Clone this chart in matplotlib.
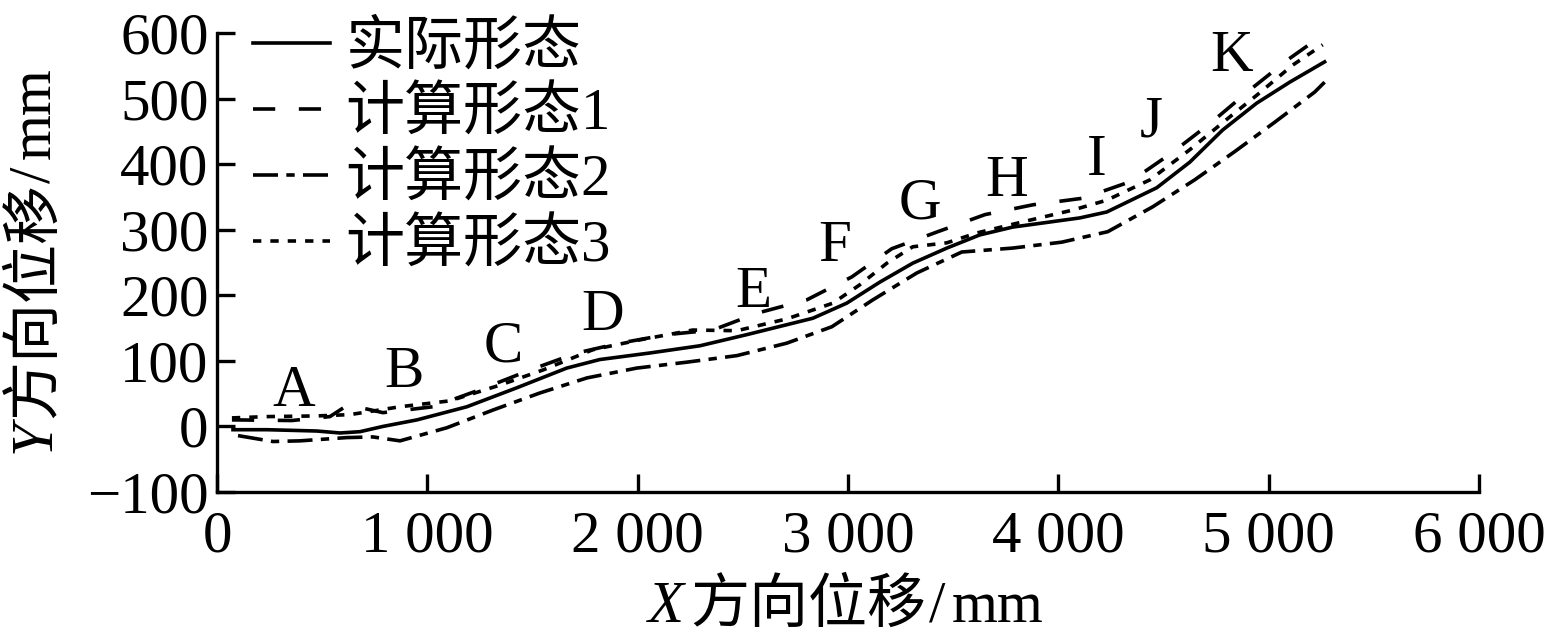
import matplotlib
matplotlib.use('Agg')
import matplotlib.pyplot as plt

plt.rcParams['font.family'] = ['Liberation Serif', 'Noto Sans CJK SC']
plt.rcParams['lines.scale_dashes'] = False
plt.rcParams['axes.unicode_minus'] = False

# Data (mm)
x_actual = [76, 238, 475, 585, 680, 789, 951, 1188, 1426, 1663, 1820, 2058, 2296, 2519, 2833,
            2994, 3151, 3308, 3470, 3626, 3783, 4102, 4230, 4468, 4625, 4781, 4943, 5100, 5266]
y_actual = [-5, -5, -7, -10, -8, 0, 10, 30, 59, 89, 102, 112, 123, 140, 165,
            188, 220, 249, 272, 292, 304, 318, 327, 364, 403, 452, 493, 525, 556]

x_calc1 = [71, 356, 537, 623, 789, 1027, 1250, 1488, 1711, 1915, 2139, 2357, 2571, 2804, 3018,
           3208, 3427, 3651, 3879, 4116, 4340, 4539, 4729, 4910, 5090, 5257]
y_calc1 = [10, 9, 15, 33, 21, 30, 56, 86, 112, 127, 140, 147, 173, 193, 228,
           271, 297, 323, 338, 348, 373, 417, 464, 513, 559, 597]

x_calc2 = [100, 266, 394, 618, 741, 870, 1093, 1312, 1535, 1759, 1996, 2234, 2472, 2709, 2923,
           3118, 3327, 3541, 3783, 4016, 4235, 4449, 4648, 4838, 5029, 5219, 5266]
y_calc2 = [-14, -23, -22, -17, -16, -22, -2, 25, 51, 74, 89, 98, 108, 127, 152,
           193, 234, 266, 272, 281, 297, 335, 376, 419, 464, 510, 525]

x_calc3 = [71, 238, 475, 632, 870, 1107, 1345, 1549, 1787, 2010, 2262, 2472, 2709, 2928, 3056,
           3185, 3308, 3470, 3612, 3831, 4069, 4230, 4435, 4625, 4815, 4943, 5114, 5257]
y_calc3 = [13, 15, 16, 18, 30, 39, 63, 86, 117, 132, 147, 146, 164, 188, 216,
           249, 274, 280, 295, 312, 330, 345, 376, 422, 472, 505, 551, 582]

point_names = ['A', 'B', 'C', 'D', 'E', 'F', 'G', 'H', 'I', 'J', 'K']
point_x = [366, 889, 1359, 1835, 2548, 2938, 3344, 3753, 4181, 4442, 4823]
point_y = [52, 82, 120, 169, 204, 274, 338, 373, 405, 463, 563]

x_ticks = [0, 1000, 2000, 3000, 4000, 5000, 6000]
x_tick_labels = ['0', '1 000', '2 000', '3 000', '4 000', '5 000', '6 000']
y_ticks = [-100, 0, 100, 200, 300, 400, 500, 600]
y_tick_labels = ['\u2212100', '0', '100', '200', '300', '400', '500', '600']

fs = 42.5
W, H = 1546, 639
fig = plt.figure(figsize=(W / 100, H / 100), dpi=100)
ax = fig.add_axes([217 / W, 1 - 492 / H, (1479 - 217) / W, (492 - 33) / H])

ax.plot(x_actual, y_actual, color='k', lw=2.6, ls='-', label='实际形态')
ax.plot(x_calc1, y_calc1, color='k', lw=2.6, ls=(0, (16, 17)), label='计算形态1')
ax.plot(x_calc2, y_calc2, color='k', lw=2.6, ls=(0, (18, 6, 6, 6)), label='计算形态2')
ax.plot(x_calc3, y_calc3, color='k', lw=2.6, ls=(0, (6, 6.5)), label='计算形态3')

for name, px, py in zip(point_names, point_x, point_y):
    ax.text(px, py, name, fontsize=fs, ha='center', va='center')

ax.set_xlim(0, 6000)
ax.set_ylim(-100, 600)
ax.set_xticks(x_ticks)
ax.set_xticklabels(x_tick_labels)
ax.set_yticks(y_ticks)
ax.set_yticklabels(y_tick_labels)
ax.tick_params(direction='in', length=13, width=2.4, labelsize=fs)
ax.tick_params(axis='x', pad=13)
ax.tick_params(axis='y', pad=6)
ax.spines['top'].set_visible(False)
ax.spines['right'].set_visible(False)
ax.spines['left'].set_linewidth(2.4)
ax.spines['bottom'].set_linewidth(2.4)


# axis titles in pieces, the letter is italic and CJK has no italic
def x_part(s, px, **kw):
    fig.text(px / W, 1 - 622 / H, s, fontsize=fs, ha='left', va='baseline', **kw)


def y_part(s, py, **kw):
    fig.text(50 / W, 1 - py / H, s, fontsize=fs, rotation=90, rotation_mode='anchor',
             ha='left', va='baseline', **kw)


x_part('X', 648, fontstyle='italic', family='Liberation Serif')
x_part('方向位移', 690)
x_part('/', 929)
x_part('mm', 952)

y_part('Y', 453, fontstyle='italic', family='Liberation Serif')
y_part('方向位移', 418)
y_part('/', 183)
y_part('mm', 159)

ax.legend(loc='upper left', bbox_to_anchor=(0.0285, 1.026), frameon=False, fontsize=fs,
          handlelength=1.3, handletextpad=0.27, labelspacing=0.185, borderpad=0, borderaxespad=0)

fig.savefig('out.png', dpi=100)
